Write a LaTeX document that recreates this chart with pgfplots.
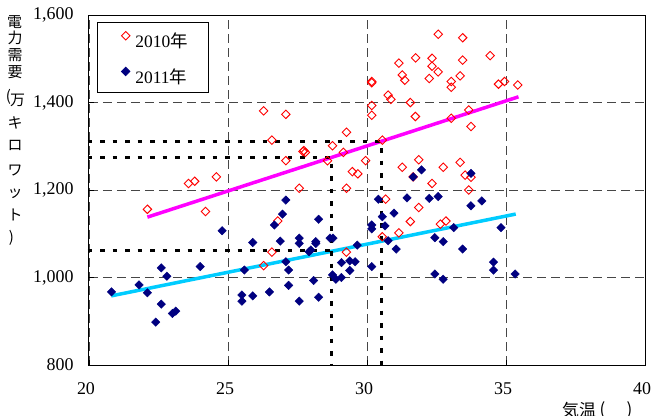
\documentclass[border=0pt]{standalone}
\usepackage{pgfplots}
\pgfplotsset{compat=1.18}
\usepackage{fontspec}
\setmainfont{Liberation Serif}
\newfontfamily\jp{Noto Sans CJK JP}
\definecolor{navyb}{RGB}{0,0,128}
\definecolor{cyanl}{RGB}{0,204,255}
\definecolor{magl}{RGB}{255,0,255}
\definecolor{redl}{RGB}{255,0,0}
\definecolor{gridc}{RGB}{70,70,70}
\newcommand{\ip}[2]{({(#1-89)*1bp},{(365-#2)*1bp})}
\begin{document}
\begin{tikzpicture}
\path[use as bounding box] (-89bp,-51bp) rectangle (562bp,365bp);
\begin{axis}[
  at={(0,0)}, anchor=south west, scale only axis,
  width=556bp, height=350bp,
  xmin=20, xmax=40, ymin=800, ymax=1600,
  xtick={20,25,30,35,40}, ytick={800,1000,1200,1400,1600},
  xtick pos=left, ytick pos=left,
  tick align=inside, major tick length=5bp,
  tick style={black, line width=0.8bp},
  axis line style={black, line width=1bp},
  xmajorgrids, ymajorgrids,
  major grid style={gridc, line width=0.8bp, dash pattern=on 9bp off 5bp},
  /pgf/number format/.cd, 1000 sep={,}, assume math mode=true, /pgfplots/.cd,
  ticklabel style={font=\fontsize{18}{18}\selectfont},
  xticklabel style={yshift=-14bp, xshift=-3bp},
  yticklabel style={xshift=-12bp},
  clip=false,
  legend cell align=left,
  legend style={at={(0.0149,0.979)}, anchor=north west, draw=black, line width=0.8bp,
    fill=white, font=\fontsize{17.5}{18}\selectfont,
    inner xsep=21bp, inner ysep=6bp, row sep=13.7bp,
    nodes={inner sep=0pt, text height=19bp, text depth=3bp, draw=none}},
  legend image code/.code={\path[draw=none, fill=none] (0bp,0bp) rectangle (16.7bp,1bp); \draw[#1] plot coordinates {(7bp,4bp)};},
]
% 2010
\addplot[only marks, mark=square, mark size=3bp, mark options={rotate=45, redl, line width=0.9bp, fill=white}] coordinates {
(26.28,1381) (27.08,1373) (30.17,1393) (30.17,1371) (26.58,1314) (29.26,1332)
(27.73,1290) (27.78,1286) (27.70,1288) (28.76,1301) (29.15,1286) (27.08,1267)
(28.58,1267) (29.95,1267) (29.47,1242) (29.67,1237) (23.58,1215) (23.80,1220)
(24.58,1230) (27.56,1204) (29.26,1204) (22.10,1156) (24.19,1151) (26.79,1129)
(26.58,1058) (26.28,1027) (29.26,1058) (32.56,1556) (33.44,1548) (34.43,1507)
(31.15,1490) (31.75,1502) (32.34,1501) (32.34,1483) (32.56,1470) (33.44,1497)
(31.27,1463) (31.36,1451) (32.24,1455) (30.17,1448) (30.17,1445) (33.03,1448)
(33.03,1435) (33.35,1461) (34.73,1442) (34.95,1448) (35.42,1440) (30.76,1417)
(30.86,1407) (31.56,1400) (31.74,1368) (33.03,1364) (33.66,1383) (33.74,1345)
(30.55,1314) (31.27,1252) (31.86,1269) (32.74,1252) (33.35,1263) (33.53,1234)
(33.74,1229) (33.66,1200) (32.34,1215) (31.66,1230) (30.67,1179) (31.86,1160)
(31.56,1128) (31.15,1102) (30.55,1093) (32.64,1122) (32.84,1129)
};
\addlegendentry{2010{\jp 年}}
% 2011
\addplot[only marks, mark=square*, mark size=3bp, mark options={rotate=45, navyb, fill=navyb}] coordinates {
(20.81,967) (21.80,983) (22.10,965) (22.60,1022) (22.80,1003) (22.60,939)
(22.40,898) (23.00,918) (23.12,923) (24.00,1025) (24.79,1107) (25.50,960)
(25.50,946) (25.89,958) (25.59,1017) (25.89,1080) (26.49,967) (26.67,1120)
(26.96,1145) (27.08,1177) (26.88,1083) (27.08,1036) (27.18,1017) (27.18,982)
(27.56,1090) (27.56,1078) (27.56,946) (27.92,1059) (27.98,1063) (28.16,1078)
(28.16,1082) (28.26,1133) (28.08,993) (28.26,955) (28.67,1090) (28.78,1090)
(28.76,1006) (28.88,996) (29.08,1000) (29.08,1034) (29.38,1038) (29.57,1036)
(29.38,1016) (29.65,1074) (30.17,1120) (30.17,1111) (30.17,1025) (30.41,1179)
(30.55,1139) (30.65,1118) (30.76,1084) (30.97,1147) (31.05,1065) (31.44,1182)
(31.66,1230) (31.96,1246) (32.24,1181) (32.56,1185) (32.44,1091) (32.74,1082)
(33.12,1114) (33.44,1065) (33.74,1238) (33.74,1164) (34.13,1175) (34.82,1114)
(34.55,1035) (34.55,1017) (32.44,1008) (32.74,996) (35.33,1008)
};
\addlegendentry{2011{\jp 年}}
% trend lines
\addplot[magl, line width=3.5bp, forget plot] coordinates {(22.1,1138) (35.45,1413)};
\addplot[cyanl, line width=3.5bp, forget plot] coordinates {(20.8,958) (35.35,1145)};
% dotted guide lines
\addplot[black, line width=3bp, dash pattern=on 4.5bp off 8bp, forget plot] coordinates {(19.95,1310) (30.52,1310) (30.52,800)};
\addplot[black, line width=3bp, dash pattern=on 4.5bp off 8bp, forget plot] coordinates {(19.95,1275) (28.71,1275) (28.71,800)};
\addplot[black, line width=3bp, dash pattern=on 4.5bp off 8bp, forget plot] coordinates {(19.95,1061) (28.71,1061)};
\end{axis}
% y axis label (vertical, stacked)
\begin{scope}[every node/.style={font=\jp\fontsize{15}{15}\selectfont, inner sep=0pt}]
\node at \ip{14.5}{21.7} {電};
\node at \ip{15}{37.5} {力};
\node at \ip{15}{55} {需};
\node at \ip{15}{71.7} {要};
\node at \ip{8.5}{97} {(};
\node at \ip{17.5}{100} {万};
\node at \ip{15}{122.5} {キ};
\node at \ip{15}{145} {ロ};
\node at \ip{15}{170} {ワ};
\node at \ip{15}{194} {ッ};
\node at \ip{15}{214.5} {ト};
\node at \ip{11.5}{237.5} {)};
\end{scope}
% x axis label
\begin{scope}[every node/.style={font=\jp\fontsize{17}{17}\selectfont, inner sep=0pt}]
\node at \ip{579}{410} {気温};
\node at \ip{602.5}{410} {(};
\node at \ip{629.5}{410} {)};
\end{scope}
\end{tikzpicture}
\end{document}
